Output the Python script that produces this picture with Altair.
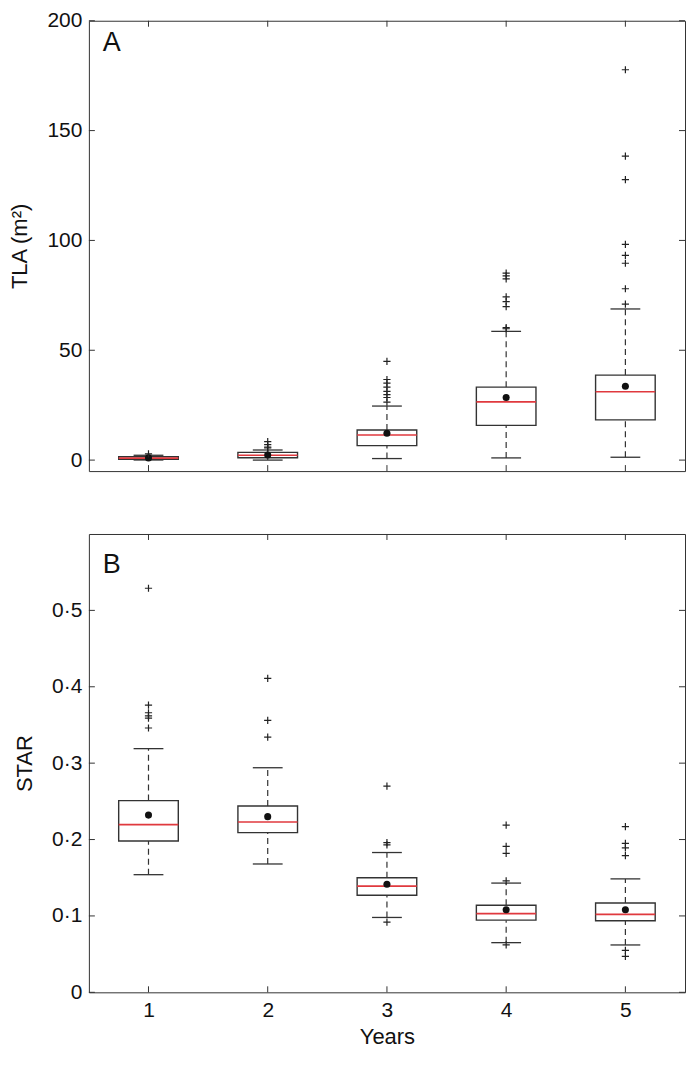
import altair as alt
import pandas as pd

# ---------------- data ----------------
years = [1, 2, 3, 4, 5]

# Panel A: TLA (m2)
tla_lo = [0.05, 0.0, 0.7, 1.0, 1.3]
tla_q1 = [0.4, 1.1, 6.6, 15.8, 18.3]
tla_median = [0.9, 2.2, 11.4, 26.5, 31.1]
tla_q3 = [1.5, 3.5, 13.7, 33.2, 38.7]
tla_hi = [2.2, 4.6, 24.6, 58.6, 68.8]
tla_mean = [1.0, 2.3, 12.2, 28.5, 33.6]
tla_outliers = [
    [2.8],
    [5.5, 5.9, 7.0, 8.4],
    [26.4, 28.5, 29.8, 31.3, 33.2, 35.0, 36.7, 44.9],
    [59.8, 60.3, 69.9, 72.1, 74.3, 82.5, 83.9, 85.1],
    [71.0, 78.0, 89.6, 93.2, 98.2, 127.7, 138.4, 177.7],
]
tla_ticks = [0, 50, 100, 150, 200]

# Panel B: STAR
star_lo = [0.154, 0.168, 0.098, 0.065, 0.062]
star_q1 = [0.198, 0.209, 0.127, 0.0945, 0.0936]
star_median = [0.2195, 0.223, 0.139, 0.103, 0.102]
star_q3 = [0.251, 0.244, 0.150, 0.114, 0.117]
star_hi = [0.319, 0.294, 0.183, 0.143, 0.1485]
star_mean = [0.232, 0.230, 0.1415, 0.108, 0.108]
star_outliers = [
    [0.529, 0.376, 0.366, 0.362, 0.359, 0.346],
    [0.411, 0.356, 0.334],
    [0.270, 0.196, 0.193, 0.092],
    [0.219, 0.191, 0.182, 0.146, 0.062],
    [0.217, 0.195, 0.189, 0.179, 0.055, 0.047],
]
star_ticks = [0, 0.1, 0.2, 0.3, 0.4, 0.5]

# ---------------- styling ----------------
FONT = "Liberation Sans"
INK = "#333333"
RED = "#e0393e"
W = 597
H1 = 451
H2 = 459
PLUS = "M-1,0L1,0M0,-1L0,1"


def stats_frame(lo, q1, med, q3, hi, mean):
    return pd.DataFrame({"year": years, "lo": lo, "q1": q1, "median": med,
                         "q3": q3, "hi": hi, "mean": mean})


def outlier_frame(outl):
    rows = [{"year": y, "value": v} for y, vals in zip(years, outl) for v in vals]
    return pd.DataFrame(rows)


def panel(stats, outl, domain, ticks, title, letter, letter_y, H, bottom, label_expr=None):
    xs = alt.Scale(domain=[0.5, 5.5], nice=False, zero=False)
    ys = alt.Scale(domain=domain, nice=False, zero=False)

    yaxis_kw = dict(values=ticks, title=title, tickSize=0, domain=False, grid=False,
                    labelPadding=7, titlePadding=15)
    if label_expr:
        yaxis_kw["labelExpr"] = label_expr
    yaxis = alt.Axis(**yaxis_kw)
    if bottom:
        xaxis = alt.Axis(values=years, format="d", title="Years", tickSize=0,
                         domain=False, grid=False, labelPadding=7, titlePadding=6)
    else:
        xaxis = None

    def X(f):
        return alt.X(f, type="quantitative", scale=xs, axis=xaxis)

    def Y(f):
        return alt.Y(f, type="quantitative", scale=ys, axis=yaxis)

    base = alt.Chart(stats).transform_calculate(
        bl="datum.year - 0.25", br="datum.year + 0.25",
        cl="datum.year - 0.125", cr="datum.year + 0.125",
    )

    whisk_hi = base.mark_rule(color=INK, strokeWidth=1.2, strokeDash=[6, 4]).encode(
        x=X("year"), y=Y("q3"), y2="hi:Q",
    )
    whisk_lo = base.mark_rule(color=INK, strokeWidth=1.2, strokeDash=[6, 4]).encode(
        x=X("year"), y=Y("lo"), y2="q1:Q",
    )
    box = base.mark_rect(fill="white", stroke=INK, strokeWidth=1.4).encode(
        x=X("bl"), x2="br:Q", y=Y("q1"), y2="q3:Q",
    )
    med = base.mark_rule(color=RED, strokeWidth=1.6).encode(
        x=X("bl"), x2="br:Q", y=Y("median"),
    )
    cap_hi = base.mark_rule(color=INK, strokeWidth=1.3).encode(
        x=X("cl"), x2="cr:Q", y=Y("hi"),
    )
    cap_lo = base.mark_rule(color=INK, strokeWidth=1.3).encode(
        x=X("cl"), x2="cr:Q", y=Y("lo"),
    )
    mean = base.mark_circle(size=50, color="#111111", opacity=1).encode(
        x=X("year"), y=Y("mean"),
    )
    outs = alt.Chart(outl).mark_point(shape=PLUS, size=52, filled=False,
                                      stroke="#222222", strokeWidth=1.2, opacity=1).encode(
        x=X("year"), y=Y("value"),
    )

    ytdf = pd.DataFrame({"v": ticks})
    xtdf = pd.DataFrame({"v": years})
    yt_left = alt.Chart(ytdf).mark_rule(color=INK).encode(
        y=Y("v"), x=alt.value(0), x2=alt.value(6))
    yt_right = alt.Chart(ytdf).mark_rule(color=INK).encode(
        y=Y("v"), x=alt.value(W - 6), x2=alt.value(W))
    xt_bot = alt.Chart(xtdf).mark_rule(color=INK).encode(
        x=X("v"), y=alt.value(H), y2=alt.value(H - 6))
    xt_top = alt.Chart(xtdf).mark_rule(color=INK).encode(
        x=X("v"), y=alt.value(0), y2=alt.value(6))

    lab = alt.Chart(pd.DataFrame({"t": [letter]})).mark_text(
        align="left", baseline="alphabetic", fontSize=27, font=FONT, color="#111111"
    ).encode(x=alt.value(14), y=alt.value(letter_y), text="t:N")

    return alt.layer(
        whisk_hi, whisk_lo, box, med, cap_hi, cap_lo, mean, outs,
        yt_left, yt_right, xt_bot, xt_top, lab
    ).properties(width=W, height=H)


top = panel(
    stats_frame(tla_lo, tla_q1, tla_median, tla_q3, tla_hi, tla_mean),
    outlier_frame(tla_outliers), [-5, 200], tla_ticks, "TLA (m²)", "A", 30, H1, False,
)
bot = panel(
    stats_frame(star_lo, star_q1, star_median, star_q3, star_hi, star_mean),
    outlier_frame(star_outliers), [0, 0.6], star_ticks, "STAR", "B", 39, H2, True,
    label_expr="datum.value == 0 ? '0' : replace(format(datum.value, '.1f'), '.', '·')",
)

chart = alt.vconcat(top, bot, spacing=61).properties(padding=0).configure_view(
    stroke=INK, strokeWidth=1
).configure_axis(
    labelFont=FONT, titleFont=FONT, labelFontSize=21, titleFontSize=22,
    labelColor="#111111", titleColor="#111111", titleFontWeight="normal",
)

chart.save("out.html", embed_options={"renderer": "svg", "actions": False})
